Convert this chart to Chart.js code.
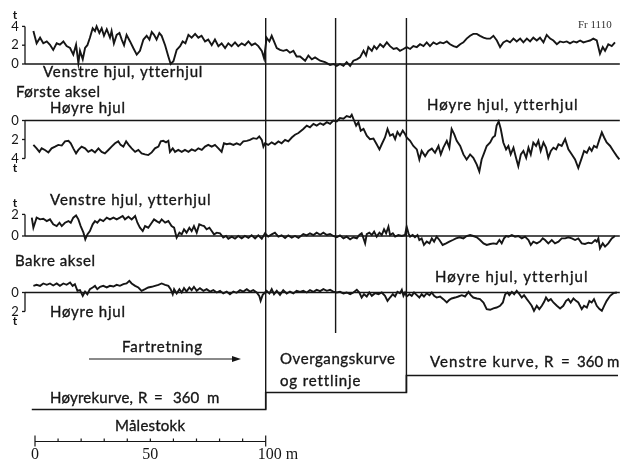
<!DOCTYPE html>
<html>
<head>
<meta charset="utf-8">
<script src="https://cdn.jsdelivr.net/npm/chart.js@4.4.1/dist/chart.umd.min.js"></script>
<style>
  html, body { margin: 0; padding: 0; background: #ffffff; }
  canvas { display: block; }
</style>
</head>
<body>
<canvas id="hjultrykk" width="627" height="463"></canvas>
<script>
// Wheel force (tonnes) against distance (m), first and rear axle.

// Første aksel, venstre hjul (ytterhjul i høyrekurven) — [m, t]
const forsteVenstre = [
  [-0.7,3.5],[0.7,2.2],[2.2,2.8],[3.6,2.2],[5.1,2.4],[6.5,2.05],[7.9,1.5],[9.4,2.2],[10.8,2.05],[12.3,2.4],
  [13.7,1.9],[15.2,1.7],[16.6,1.0],[17.8,2.05],[18.8,0.1],[19.5,1.4],[20.7,0.5],[21.7,1.7],[22.7,2.0],[23.8,2.8],
  [25.0,3.8],[26.0,3.5],[26.7,4.0],[27.9,3.3],[28.9,3.8],[29.9,3.0],[31.1,3.7],[32.5,2.8],[33.2,3.5],[34.2,2.2],
  [35.4,3.1],[36.6,3.3],[37.6,2.6],[38.6,2.0],[39.7,3.1],[41.2,2.4],[42.6,1.7],[44.1,1.0],[45.5,1.4],[47.0,2.6],
  [48.4,3.0],[49.6,2.6],[50.6,3.4],[51.6,3.1],[52.7,2.6],[53.9,3.3],[54.9,3.0],[56.4,2.0],[57.8,0.8],[58.8,0],
  [60.0,0.3],[61.4,1.5],[62.9,1.9],[64.0,2.4],[65.2,2.2],[66.5,3.1],[67.9,2.8],[69.4,3.2],[70.8,2.8],[72.2,3.0],
  [73.7,2.4],[75.1,2.6],[76.6,2.0],[78.0,2.6],[79.5,1.9],[80.9,2.2],[82.4,1.7],[83.8,2.2],[85.2,1.9],[86.7,2.3],
  [88.1,1.9],[89.6,2.2],[91.0,2.0],[92.5,2.4],[93.9,2.0],[95.4,2.2],[96.8,1.9],[98.3,1.4],[99.3,0.6],[100.4,2.8],
  [101.6,2.4],[102.6,3.0],[103.6,2.4],[104.8,1.7],[106.2,1.5],[107.6,1.4],[109.1,1.5],[110.5,1.2],[112.0,1.4],[113.4,0.8],
  [114.9,0.8],[117.1,0.35],[118.5,0.9],[120.0,0.5],[121.4,0.7],[123.6,0.35],[125.7,0.2],[127.9,-0.1],[129.4,0],[130.8,-0.2],
  [132.2,0],[133.7,-0.2],[135.1,0.2],[136.6,-0.2],[138.0,0.35],[139.5,0.5],[140.9,0.7],[142.4,1.4],[143.5,0.9],[144.5,1.8],
  [146.0,1.4],[147.0,1.9],[148.1,1.6],[149.6,2.1],[151.0,1.8],[152.5,2.3],[153.9,1.9],[155.4,1.6],[156.8,1.7],[158.2,1.4],
  [159.7,1.6],[161.1,1.8],[162.6,1.6],[164.0,1.9],[165.5,1.8],[166.9,2.1],[168.4,1.9],[169.8,2.3],[171.2,1.9],[172.7,2.3],
  [174.1,2.1],[175.6,2.3],[177.0,2.2],[178.5,2.4],[179.9,2.1],[181.4,1.9],[182.8,1.8],[184.3,2.1],[185.7,2.3],[187.1,2.7],
  [188.6,3.0],[190.0,3.2],[191.5,3.2],[192.9,3.0],[194.4,2.8],[195.8,2.7],[197.3,2.7],[198.7,3.0],[200.2,2.5],[201.6,1.8],
  [203.0,2.3],[204.5,2.5],[205.9,2.3],[207.4,2.7],[208.8,2.4],[210.3,2.7],[211.7,2.3],[213.2,2.7],[214.6,2.4],[216.0,2.8],
  [217.5,2.5],[218.9,2.8],[220.4,2.3],[221.8,3.1],[223.3,2.7],[224.7,2.5],[226.2,2.1],[227.6,2.4],[229.0,2.3],[230.5,2.4],
  [231.9,2.2],[233.4,2.4],[234.8,2.3],[236.3,2.5],[237.7,2.3],[239.2,2.4],[240.6,2.5],[242.0,2.7],[243.5,2.5],[244.9,1.1],
  [246.1,1.8],[247.1,1.4],[248.5,2.1],[250.0,1.9],[251.4,2.3]
];

// Første aksel, høyre hjul (drawn with force increasing downwards) — [m, t]
const forsteHoyre = [
  [-0.7,2.57],[0.7,2.93],[1.9,3.3],[2.9,2.93],[4.3,3.1],[5.8,3.36],[7.2,2.93],[8.7,2.75],[10.1,2.57],[11.6,2.64],
  [13.0,2.2],[14.5,2.14],[15.5,2.4],[16.6,2.93],[17.8,3.46],[18.8,3.1],[20.2,2.75],[21.7,2.93],[23.1,3.3],[24.6,3.1],
  [26.0,3.36],[27.5,2.93],[28.9,3.3],[30.3,3.46],[31.8,3.1],[33.2,2.75],[34.7,2.4],[36.1,2.2],[37.1,2.57],[38.3,2.75],
  [39.5,2.2],[40.6,2.57],[41.9,2.93],[43.4,3.3],[44.8,3.1],[46.2,3.46],[47.7,3.57],[49.1,3.64],[50.6,3.36],[52.0,2.93],
  [53.5,2.75],[54.5,2.2],[55.6,2.14],[56.8,2.3],[57.8,2.14],[58.5,3.3],[59.7,2.93],[60.7,3.3],[62.1,3.1],[63.6,3.3],
  [65.0,3.1],[66.5,3.3],[67.9,3.04],[69.4,3.2],[70.8,2.93],[72.3,3.1],[73.7,2.75],[75.1,2.57],[76.6,2.75],[78.0,2.57],
  [79.5,2.93],[80.9,3.3],[81.9,2.4],[83.1,2.5],[84.5,2.43],[86.0,2.57],[87.4,2.4],[88.9,2.57],[90.3,2.2],[91.8,2.14],
  [93.2,2.04],[94.6,1.86],[96.1,1.93],[97.2,1.68],[98.3,2.04],[99.0,2.75],[99.7,2.4],[101.1,2.57],[102.6,2.3],[104.0,2.5],
  [105.5,2.2],[106.9,2.4],[108.4,2.04],[109.8,2.2],[111.3,1.79],[112.7,1.5],[114.2,1.32],[116.3,0.89],[117.8,0.54],[119.2,0.71],
  [120.7,0.36],[122.1,0.54],[123.6,0.29],[125.0,0.46],[126.5,0.18],[127.9,0.36],[129.3,0],[130.8,0.1],[132.2,-0.25],[133.7,-0.18],
  [135.1,-0.46],[136.6,-0.36],[137.3,-0.6],[138.3,0],[139.2,0.54],[140.2,0.18],[141.2,1.07],[142.4,0.89],[143.8,1.6],[145.2,1.96],
  [146.7,1.9],[148.1,2.5],[149.3,3.04],[150.3,2.5],[151.7,1.79],[152.8,0.89],[153.9,1.6],[155.1,1.43],[156.1,1.96],[157.1,1.21],
  [158.2,1.6],[159.4,1.07],[160.4,1.43],[161.1,1.79],[162.6,2.14],[164.0,2.68],[165.5,3.04],[166.6,4.1],[167.6,3.2],[169.1,3.75],
  [170.5,3.2],[172.0,2.96],[173.4,3.4],[174.9,2.68],[175.9,3.57],[177.0,2.86],[178.5,2.14],[179.6,2.86],[180.6,0.89],[181.7,1.43],
  [182.8,2.14],[184.3,2.68],[185.7,3.57],[187.1,4.1],[188.6,3.57],[190.0,3.93],[191.5,4.64],[192.6,5.36],[193.6,4.1],[194.7,3.4],
  [195.8,2.68],[197.3,2.32],[198.4,1.79],[199.4,1.6],[200.1,0.54],[201.0,0.1],[201.9,0.89],[203.0,2.32],[204.2,3.04],[205.2,2.68],
  [206.2,3.57],[207.4,2.86],[208.5,3.93],[209.5,4.82],[210.6,3.57],[211.7,3.2],[212.9,3.93],[213.9,2.86],[214.9,3.57],[216.0,2.32],
  [217.2,2.68],[218.2,2.14],[219.2,3.2],[220.4,2.32],[221.5,2.86],[222.5,3.93],[223.6,3.2],[224.7,2.86],[225.9,3.04],[226.9,2.5],
  [228.3,2.68],[229.8,1.96],[231.2,3.04],[232.7,3.57],[234.1,4.1],[235.5,5.0],[237.0,3.93],[238.0,3.2],[239.2,3.4],[240.3,2.86],
  [241.3,3.2],[242.3,2.68],[243.5,2.86],[244.7,1.96],[245.7,1.25],[246.7,1.79],[247.8,2.32],[249.3,2.68],[250.7,3.2],[252.2,3.75],
  [253.3,4.1]
];

// Bakre aksel, venstre hjul — [m, t]
const bakreVenstre = [
  [-1.4,1.7],[-0.7,0.77],[0,1.23],[0.7,1.7],[2.2,1.54],[3.6,1.6],[5.1,1.38],[6.5,1.54],[7.9,1.08],[9.4,0.92],
  [10.6,1.23],[11.6,0.92],[13.0,1.23],[14.5,1.38],[15.5,1.23],[16.6,1.7],[17.8,1.9],[18.8,1.54],[19.8,0.92],[21.0,0.31],
  [21.8,-0.31],[22.7,0.15],[23.8,0.46],[25.0,1.08],[26.0,1.38],[27.0,1.23],[28.2,1.54],[29.6,1.38],[31.1,1.7],[32.5,1.54],
  [34.0,1.7],[35.4,1.54],[36.8,1.7],[38.0,1.85],[39.0,1.54],[40.5,1.78],[41.9,1.54],[43.4,1.85],[44.4,1.23],[45.5,0.77],
  [46.7,0.46],[47.7,0.92],[49.1,0.77],[50.6,1.23],[51.6,1.54],[52.7,1.38],[53.9,1.23],[54.9,1.54],[56.4,1.23],[57.8,1.38],
  [59.2,0.92],[60.3,0.77],[61.4,-0.15],[62.6,0.31],[63.6,0.15],[64.6,0.62],[65.7,0.31],[66.9,0.77],[67.9,0.46],[68.9,0.92],
  [70.1,0.31],[71.2,1.08],[72.3,0.98],[73.3,0.92],[74.4,0.62],[75.6,0.77],[76.6,0.46],[77.6,0.15],[78.8,0.31],[80.2,0.25],
  [81.6,-0.15],[82.8,0],[83.8,-0.25],[85.3,-0.06],[86.7,-0.25],[88.1,0],[89.6,-0.22],[91.0,0],[92.5,-0.18],[93.9,0.06],
  [95.4,-0.22],[96.8,0.06],[98.3,-0.25],[99.7,0.25],[101.1,-0.06],[102.6,0.15],[104.0,0.31],[105.5,-0.06],[106.9,0.06],[108.4,-0.18],
  [109.8,0.06],[111.3,-0.15],[112.7,0],[114.2,-0.18],[116.3,0.18],[117.8,0.06],[119.2,0.25],[120.7,0.09],[122.1,0.31],[123.6,0.12],
  [125.0,0.31],[126.5,0.09],[127.9,0.18],[129.3,0],[130.8,-0.12],[132.2,0.06],[133.7,-0.22],[135.1,-0.06],[136.6,-0.31],[138.0,-0.12],
  [139.5,-0.22],[140.6,0.09],[141.6,0.25],[142.4,-0.22],[143.1,-0.68],[143.8,0.18],[144.9,0.31],[146.0,0.09],[147.0,0.4],[148.1,-0.06],
  [149.3,0.31],[150.3,0.09],[151.3,0.62],[152.2,0.25],[153.2,0.86],[153.9,0.09],[155.1,0.25],[156.1,-0.06],[157.5,0.09],[159.0,0],
  [160.4,0.09],[161.1,0.86],[161.9,0.25],[162.6,-0.06],[163.7,0.09],[164.7,-0.12],[165.8,0.09],[166.6,-0.37],[167.6,-0.22],[168.6,-0.83],
  [169.8,-0.52],[171.0,-0.68],[172.0,-0.22],[173.0,-0.52],[174.1,-0.06],[175.3,-0.37],[176.7,-0.83],[178.2,-0.68],[179.6,-0.52],[181.1,-0.37],
  [182.5,-0.22],[184.0,-0.12],[185.7,-0.22],[187.1,0],[188.6,0.09],[190.0,0],[191.5,-0.12],[192.9,-0.37],[194.4,-0.68],[195.8,-0.83],
  [197.3,-0.74],[198.7,-0.68],[200.1,-0.74],[201.3,-0.37],[202.3,-0.68],[203.3,-0.22],[204.2,0],[205.2,-0.06],[206.7,0.09],[208.1,-0.06],
  [209.5,0],[211.0,-0.22],[212.4,-0.06],[213.9,-0.37],[214.9,-0.83],[216.0,-0.52],[217.5,-0.68],[218.9,-0.52],[220.1,-0.22],[221.1,-0.37],
  [222.5,-0.68],[224.0,-0.37],[225.4,-0.68],[226.9,-0.52],[228.3,-0.22],[229.8,-0.22],[231.2,-0.12],[232.7,-0.22],[234.1,-0.37],[235.5,-0.22],
  [237.0,-0.68],[238.4,-0.74],[239.9,-0.62],[241.3,-0.68],[242.8,-0.37],[243.5,-0.52],[244.2,-0.22],[244.9,-1.14],[246.1,-0.68],[247.1,-0.98],
  [248.5,-0.68],[250.0,-0.22],[251.4,0]
];

// Bakre aksel, høyre hjul (drawn with force increasing downwards) — [m, t]
const bakreHoyre = [
  [-0.7,-0.7],[0.7,-0.81],[2.2,-0.7],[3.6,-0.95],[5.1,-0.81],[6.5,-0.95],[7.9,-0.74],[9.4,-0.95],[10.8,-0.7],[12.3,-0.95],
  [13.7,-0.81],[15.2,-1.05],[16.3,-0.7],[17.3,-0.88],[18.4,-0.18],[19.5,-0.25],[20.7,0.35],[21.7,-0.1],[22.7,0.18],[23.8,-0.35],
  [25.0,-0.53],[26.0,-0.7],[27.0,-0.35],[28.2,-0.6],[29.6,-0.7],[31.1,-0.53],[32.5,-0.7],[34.0,-0.63],[35.4,-0.81],[36.8,-0.7],
  [38.3,-0.88],[39.7,-0.95],[40.9,-1.23],[41.9,-0.95],[43.4,-0.7],[44.8,-0.53],[46.2,-0.18],[47.7,-0.35],[49.1,-0.53],[50.6,-0.6],
  [52.0,-0.7],[53.5,-0.81],[54.9,-0.95],[56.4,-0.81],[57.8,-0.7],[58.8,-0.35],[59.7,0.18],[60.3,-0.35],[61.4,0.1],[62.6,-0.35],
  [63.6,0],[64.6,-0.46],[65.7,-0.1],[66.9,-0.53],[67.9,-0.25],[68.9,-0.6],[70.1,-0.18],[71.5,-0.46],[73.0,-0.18],[74.4,-0.35],
  [75.9,-0.1],[77.3,-0.25],[78.8,0],[80.2,-0.18],[81.6,0.1],[83.1,-0.1],[84.5,0.18],[86.0,-0.1],[87.4,0.03],[88.9,-0.25],
  [90.3,-0.1],[91.8,-0.35],[93.2,-0.1],[94.6,-0.25],[96.1,0],[97.2,0.35],[97.8,0.88],[98.7,0.25],[99.7,0],[100.4,-0.18],
  [101.6,0.1],[102.6,-0.35],[103.6,0.18],[104.8,-0.18],[106.2,0.25],[107.6,-0.25],[109.1,0.1],[110.5,-0.1],[112.0,0.1],[113.4,-0.18],
  [114.9,-0.07],[116.3,-0.18],[117.8,0],[119.2,-0.25],[120.7,-0.07],[122.1,-0.28],[123.6,-0.14],[125.0,-0.35],[126.5,-0.18],[127.9,-0.28],
  [129.3,-0.1],[130.8,0],[132.2,-0.07],[133.7,0.1],[135.1,0],[136.6,0.18],[138.0,0],[139.5,-0.28],[140.6,0],[141.6,0.53],
  [142.6,0.18],[143.8,0.42],[144.9,0],[146.0,0.35],[147.4,0.07],[148.9,0.18],[150.3,0],[151.7,0.35],[152.8,0.88],[153.9,0.53],
  [155.1,0.18],[156.1,0.42],[157.1,-0.07],[158.2,0.07],[159.0,-0.28],[159.7,0.35],[160.4,0],[161.1,0.42],[162.3,0.18],[163.3,0.35],
  [164.3,0],[165.5,0.28],[166.6,0.53],[167.6,0.18],[168.6,0.42],[169.8,0.07],[171.0,0.28],[172.0,0],[173.0,0.35],[174.1,0.53],
  [175.6,0.42],[177.0,0.7],[178.5,1.05],[179.6,0.77],[180.6,0.63],[182.1,0.53],[183.5,0.42],[185.0,0.28],[186.4,0.42],[187.9,-0.07],
  [188.9,0.28],[190.0,0.53],[191.5,0.63],[192.9,0.7],[194.4,1.05],[195.8,1.75],[197.3,1.82],[198.7,1.68],[200.1,1.58],[201.6,1.4],
  [202.8,1.05],[203.8,0.18],[204.8,0],[205.6,0.28],[206.7,-0.07],[207.7,0.18],[208.8,-0.18],[210.0,0.18],[211.0,0.53],[212.0,0.28],
  [213.2,0.7],[214.3,1.05],[215.3,1.4],[216.3,1.93],[217.5,1.4],[218.6,1.75],[219.7,1.4],[220.7,0.98],[221.5,0.53],[222.5,0.88],
  [223.6,0.7],[224.7,1.05],[226.2,1.4],[227.6,1.68],[229.0,1.4],[230.2,0.88],[231.2,0.7],[232.2,1.05],[233.4,0.63],[234.5,0.88],
  [235.5,1.05],[237.0,1.75],[238.0,1.4],[239.2,1.58],[240.3,0.88],[241.3,1.05],[242.3,0.7],[243.5,1.4],[244.7,1.75],[245.7,1.93],
  [246.7,1.4],[247.8,0.88],[249.3,0.35],[250.7,0.07],[252.2,0]
];

// Tick labels of the four force axes (t)
const ticksForsteVenstre = [0, 2, 4];
const ticksForsteHoyre = [0, 2, 4];
const ticksBakreVenstre = [0, 2];
const ticksBakreHoyre = [0, 2];

// Track sections: start, end (m) and signed radius (m); negative = right-hand curve
const seksjonStart = [-1.4, 100, 161];
const seksjonSlutt = [100, 161, 252.7];
const seksjonRadius = [-360, null, 360];
// Section boundaries marked through the force records (m)
const seksjonsGrenser = [100, 130.3, 161];
// Distance scale bar (m)
const malestokkTicks = [0, 10, 20, 30, 40, 50, 60, 70, 80, 90, 100];

// ---------- layout ----------
const W = 627, H = 463;
const INK = '#161616';
const SANS = 'Lato, "Open Sans", "DejaVu Sans", sans-serif';
const SERIF = '"Liberation Serif", "DejaVu Serif", serif';

// x: metre 0 sits at px 35, 2.307 px per metre
const X0 = 35, PX_PER_M = 2.307;
const xRange = { min: -X0 / PX_PER_M, max: (W - X0) / PX_PER_M };

// Each record gets its own y scale across the full height, placed by zero row and px per unit
function band(zeroRow, pxPerUnit, reverse) {
  if (!reverse) {
    const max = zeroRow / pxPerUnit;
    return { min: max - H / pxPerUnit, max, reverse: false };
  }
  const min = -zeroRow / pxPerUnit;
  return { min, max: min + H / pxPerUnit, reverse: true };
}

const panels = [
  { id: 'yFV', data: forsteVenstre, ticks: ticksForsteVenstre, band: band(64, 9.4, false) },
  { id: 'yFH', data: forsteHoyre,   ticks: ticksForsteHoyre,   band: band(120.5, 9.5, true) },
  { id: 'yBV', data: bakreVenstre,  ticks: ticksBakreVenstre,  band: band(236, 10.8, false) },
  { id: 'yBH', data: bakreHoyre,    ticks: ticksBakreHoyre,    band: band(292.5, 9.5, true) }
];
// curvature 1000/R on its own scale
const kurveBand = band(392.5, 6.12, false);

const toPoints = arr => arr.map(([x, y]) => ({ x, y }));

const kurvePunkter = [];
seksjonStart.forEach((s, i) => {
  const k = seksjonRadius[i] ? 1000 / seksjonRadius[i] : 0;
  kurvePunkter.push({ x: s, y: k }, { x: seksjonSlutt[i], y: k });
});

const scales = {
  x: { type: 'linear', display: false, min: xRange.min, max: xRange.max }
};
panels.forEach(p => {
  scales[p.id] = { type: 'linear', display: false, min: p.band.min, max: p.band.max, reverse: p.band.reverse };
});
scales.kurve = { type: 'linear', display: false, min: kurveBand.min, max: kurveBand.max };

const datasets = panels.map(p => ({
  data: toPoints(p.data),
  yAxisID: p.id,
  borderColor: INK,
  borderWidth: 1.9,
  pointRadius: 0,
  tension: 0,
  fill: false
}));
datasets.push({
  data: kurvePunkter,
  yAxisID: 'kurve',
  borderColor: INK,
  borderWidth: 1.6,
  pointRadius: 0,
  tension: 0,
  fill: false
});

// Labels: text, left edge, middle row, set width
const tekster = [
  ['Venstre hjul, ytterhjul', 43, 72, 159],
  ['Første aksel', 16, 92, 84],
  ['Høyre hjul', 50, 108, 75],
  ['Høyre hjul, ytterhjul', 427, 105, 150],
  ['Venstre hjul, ytterhjul', 50, 200, 160],
  ['Bakre aksel', 15, 261, 80],
  ['Høyre hjul, ytterhjul', 435, 277, 152],
  ['Høyre hjul', 50, 312, 75],
  ['Fartretning', 122, 347, 80],
  ['Overgangskurve', 280, 359, 115],
  ['og rettlinje', 280, 381, 80],
  ['Venstre kurve,', 430, 362, 108], ['R', 544, 362, 0], ['=', 561, 362, 0], ['360', 577, 362, 0], ['m', 607, 362, 0],
  ['Høyrekurve,', 50, 398, 83], ['R', 138, 398, 0], ['=', 154, 398, 0], ['360', 173, 398, 0], ['m', 207, 398, 0],
  ['Målestokk', 115, 426, 70]
];

function seg(ctx, x1, y1, x2, y2) {
  ctx.beginPath(); ctx.moveTo(x1, y1); ctx.lineTo(x2, y2); ctx.stroke();
}

// Draw a label spread to a set width (0 = natural width)
function label(ctx, s, x, y, width) {
  ctx.save();
  const natural = ctx.measureText(s).width;
  if (width > 0 && s.length > 1) {
    const extra = width - natural;
    if ('letterSpacing' in ctx) {
      ctx.letterSpacing = (extra / (s.length - 1)).toFixed(2) + 'px';
    } else {
      ctx.translate(x, y); ctx.scale(width / natural, 1); ctx.translate(-x, -y);
    }
  }
  ctx.fillText(s, x, y);
  ctx.strokeText(s, x, y);
  ctx.restore();
}

const dekor = {
  id: 'dekor',
  beforeDatasetsDraw(chart) {
    const { ctx } = chart;
    const xs = chart.scales.x;
    ctx.save();
    ctx.strokeStyle = INK;
    ctx.fillStyle = INK;

    // zero lines, axis brackets and tick labels
    const AX = 25;
    panels.forEach(p => {
      const ys = chart.scales[p.id];
      const y0 = ys.getPixelForValue(0);
      ctx.lineWidth = 1.6;
      seg(ctx, AX, y0, xs.getPixelForValue(253.5), y0);
      const yTop = ys.getPixelForValue(p.ticks[p.ticks.length - 1]);
      ctx.lineWidth = 1.3;
      seg(ctx, AX, y0, AX, yTop);
      ctx.font = '13px ' + SANS;
      ctx.textAlign = 'center';
      ctx.textBaseline = 'middle';
      p.ticks.forEach(t => {
        const yy = ys.getPixelForValue(t);
        seg(ctx, AX - 3, yy, AX, yy);
        ctx.fillText(String(t), 15, yy);
      });
      const tY = yTop + (p.band.reverse ? 10 : -11);
      ctx.font = 'bold 12px ' + SANS;
      ctx.fillText('t', 15, tY);
    });

    // section boundaries through the records
    const ks = chart.scales.kurve;
    const bunn = [ks.getPixelForValue(1000 / seksjonRadius[0]), 333, ks.getPixelForValue(0)];
    ctx.lineWidth = 1.4;
    seksjonsGrenser.forEach((g, i) => {
      const gx = xs.getPixelForValue(g);
      seg(ctx, gx, 18, gx, bunn[i]);
    });

    // distance scale bar
    const yb = 441.5;
    ctx.lineWidth = 1.2;
    seg(ctx, xs.getPixelForValue(malestokkTicks[0]), yb, xs.getPixelForValue(malestokkTicks[malestokkTicks.length - 1]), yb);
    malestokkTicks.forEach((m, i) => {
      const mx = xs.getPixelForValue(m);
      const ende = i === 0 || i === malestokkTicks.length - 1;
      seg(ctx, mx, ende ? yb - 6 : yb - 3, mx, ende ? yb + 5 : yb);
    });
    ctx.font = '16px ' + SERIF;
    ctx.textBaseline = 'middle';
    ctx.textAlign = 'center';
    ctx.fillText('0', xs.getPixelForValue(0), 455);
    ctx.fillText('50', xs.getPixelForValue(50), 455);
    ctx.textAlign = 'left';
    ctx.fillText('100 m', xs.getPixelForValue(100) - 8, 455);

    // direction of travel arrow
    ctx.lineWidth = 1.1;
    seg(ctx, 89, 359, 234, 359);
    ctx.beginPath();
    ctx.moveTo(241, 359); ctx.lineTo(232, 356); ctx.lineTo(232, 362); ctx.closePath();
    ctx.fill();

    // texts
    ctx.font = '15px ' + SANS;
    ctx.textAlign = 'left';
    ctx.textBaseline = 'middle';
    ctx.lineWidth = 0.35;
    tekster.forEach(([s, x, y, w]) => label(ctx, s, x, y, w));

    ctx.font = '11px ' + SERIF;
    ctx.fillStyle = '#333';
    ctx.fillText('Fr 1110', 578, 25);
    ctx.restore();
  }
};

new Chart(document.getElementById('hjultrykk'), {
  type: 'line',
  data: { datasets },
  options: {
    responsive: false,
    animation: false,
    devicePixelRatio: 1,
    events: [],
    layout: { padding: 0 },
    plugins: { legend: { display: false }, tooltip: { enabled: false }, title: { display: false } },
    scales
  },
  plugins: [dekor]
});
</script>
</body>
</html>
